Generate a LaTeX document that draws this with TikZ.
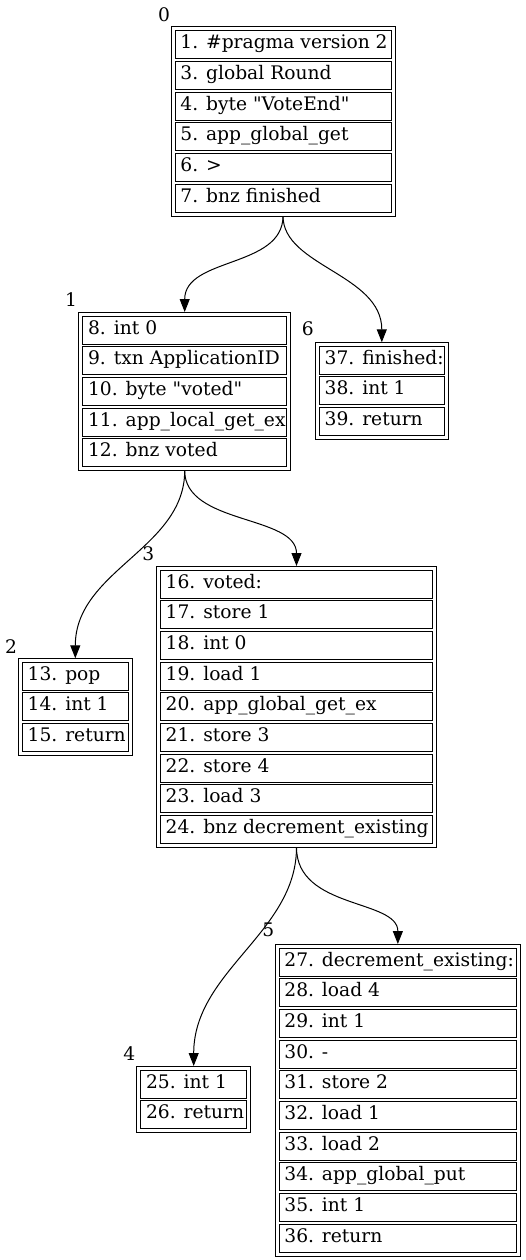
\documentclass[tikz,border=0pt]{standalone}
\usepackage{fontspec}
\setmainfont{DejaVu Serif}
\newfontfamily\cellfamily{DejaVu Serif}
\usetikzlibrary{arrows.meta}
\newcommand\cellfont{\cellfamily\fontsize{18.67}{22}\selectfont}
\tikzset{
  outerbox/.style={draw=black, line width=1pt, inner sep=0pt, outer sep=0pt, anchor=north west},
  cellbox/.style={draw=black, line width=1pt, inner sep=0pt, outer sep=0pt, minimum height=28pt, anchor=north west},
  celltext/.style={inner sep=0pt, outer sep=0pt, anchor=base west, font=\cellfont},
  numlabel/.style={inner sep=0pt, font=\cellfont},
  flow/.style={draw=black, line width=1pt, -{Triangle[length=13pt,width=10pt]}},
}
\newcommand\blk[5]{%
  \def\ncells{0}%
  \foreach \itm [count=\i] in {#5} {\xdef\ncells{\i}}%
  \pgfmathsetmacro\bh{\ncells*28+(\ncells-1)*2.667+8}%
  \pgfmathsetmacro\cw{#4-8}%
  \node[outerbox, minimum width=#4pt, minimum height=\bh pt] (#1) at (#2,-#3) {};%
  \foreach \itm [count=\i] in {#5} {%
    \node[cellbox, minimum width=\cw pt] (#1c\i) at ({#2+4},{-#3-4-(\i-1)*30.667}) {};%
    \node[celltext] (#1t\i) at ([xshift=5.4pt,yshift=-18pt]#1c\i.north west) {\itm};%
  }%
}
\begin{document}
\begin{tikzpicture}[x=1pt,y=1pt]
\useasboundingbox (0,0) rectangle (526,-1260);
\blk{b0}{171}{26.7}{224}{1. \#pragma version 2, 3. global Round, 4. byte "VoteEnd", 5. app\_global\_get, 6. >, 7. bnz finished}
\blk{b1}{78.7}{312}{212}{8. int 0, 9. txn ApplicationID, 10. byte "voted", 11. app\_local\_get\_ex, 12. bnz voted}
\blk{b6}{315.3}{342.3}{133}{37. finished:, 38. int 1, 39. return}
\blk{b2}{18.3}{658.3}{114}{13. pop, 14. int 1, 15. return}
\blk{b3}{156.3}{566}{280.4}{16. voted:, 17. store 1, 18. int 0, 19. load 1, 20. app\_global\_get\_ex, 21. store 3, 22. store 4, 23. load 3, 24. bnz decrement\_existing}
\blk{b4}{136.7}{1066}{114}{25. int 1, 26. return}
\blk{b5}{275}{944}{245.7}{27. decrement\_existing:, 28. load 4, 29. int 1, 30. -, 31. store 2, 32. load 1, 33. load 2, 34. app\_global\_put, 35. int 1, 36. return}
\draw[flow] (b0.south) .. controls +(0,-52) and +(0,55) .. (b1.north);
\draw[flow] (b0.south) .. controls +(0,-50) and +(0,68) .. (b6.north);
\draw[flow] (b1.south) .. controls +(0,-78) and +(0,88) .. (b2.north);
\draw[flow] (b1.south) .. controls +(0,-54) and +(0,51) .. (b3.north);
\draw[flow] (b3.south) .. controls +(0,-85) and +(0,95) .. (b4.north);
\draw[flow] (b3.south) .. controls +(0,-62) and +(0,45) .. (b5.north);
\node[numlabel] (l0) at (164,-15) {0};
\node[numlabel] (l1) at (71,-300) {1};
\node[numlabel] (l6) at (307.7,-329) {6};
\node[numlabel] (l2) at (11,-646.7) {2};
\node[numlabel] (l3) at (148.3,-554) {3};
\node[numlabel] (l4) at (129.3,-1054) {4};
\node[numlabel] (l5) at (268.3,-930) {5};
\end{tikzpicture}
\end{document}
